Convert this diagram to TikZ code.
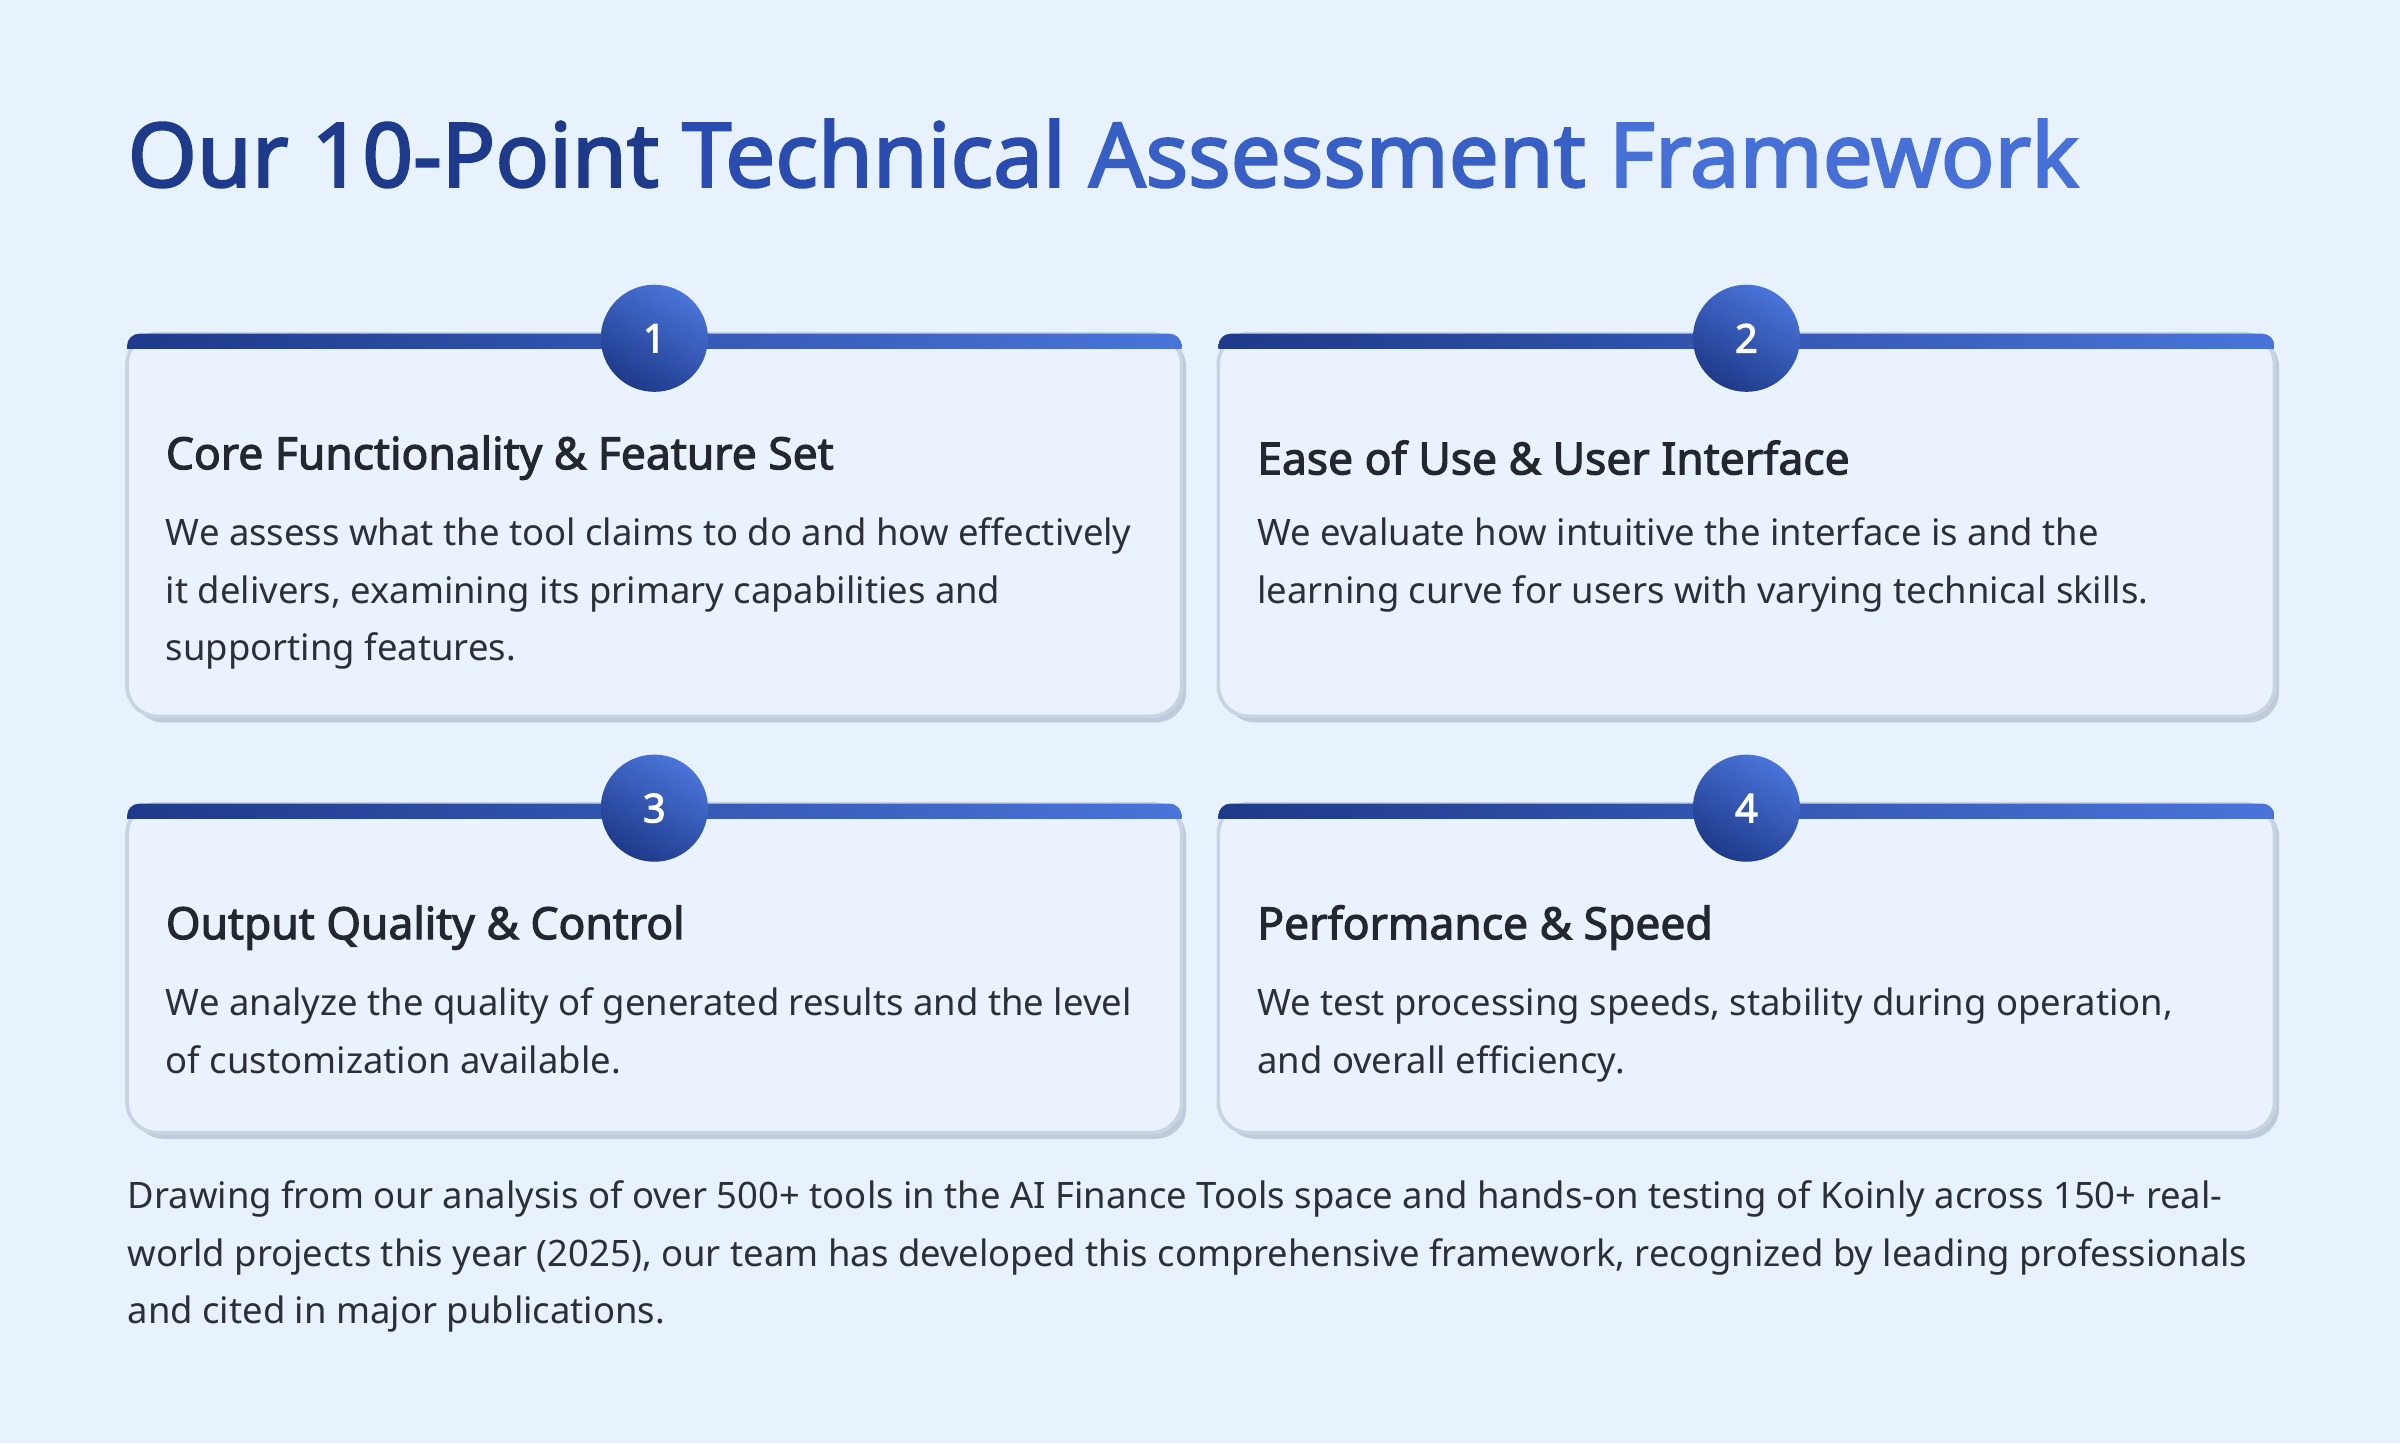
\documentclass[tikz,border=0pt]{standalone}
\usepackage{fontspec}
\setmainfont{Noto Sans}[AutoFakeBold=2.5]
\usetikzlibrary{shadings}
\definecolor{bg}{HTML}{E8F2FD}
\definecolor{cardfill}{HTML}{EAF3FD}
\definecolor{cardline}{HTML}{C9D4E2}
\definecolor{shadowc}{HTML}{BFCADA}
\definecolor{bdark}{HTML}{1E3A8A}
\definecolor{blight}{HTML}{4A74D9}
\definecolor{txt}{HTML}{2B2F36}
\definecolor{head}{HTML}{23272E}
\tikzset{
 bodytxt/.style={anchor=north west,align=left,inner sep=0pt,font=\fontsize{11.9}{18.8}\selectfont,text=txt},
 headtxt/.style={anchor=west,inner sep=0pt,font=\fontsize{14.5}{17}\selectfont\bfseries,text=head},
 numc/.style={circle,minimum size=35pt,inner sep=0pt,top color=blight,bottom color=bdark,shading angle=-30,text=white,font=\fontsize{13}{15}\selectfont\bfseries},
}
\newcommand{\mycard}[8]{% x1 y1 x2 y2 num name heading body
 \fill[shadowc,rounded corners=10pt] (#1+4,#2+2) rectangle (#3+3,#4+4);
 \draw[cardline,line width=1.2pt,fill=cardfill,rounded corners=10pt] (#1,#2) rectangle (#3,#4);
 \begin{scope}
 \clip[rounded corners=4pt] (#1,#2) rectangle (#3,#2+40);
 \shade[left color=bdark,right color=blight] (#1,#2) rectangle (#3,#2+10);
 \end{scope}
 \node[numc] (#6) at ({(#1+#3)/2},#2+3) {#5};
 \node[headtxt] (#6h) at (#1+25,#2+81) {#7};
 \node[bodytxt] (#6b) at (#1+25,#2+120) {#8};
}
\begin{document}
\begin{tikzpicture}[x=0.5pt,y=-0.5pt]
\fill[bg] (0,0) rectangle (1568,943);
\useasboundingbox (0,0) rectangle (1568,943);
\node[anchor=base west,inner sep=0pt,font=\fontsize{29}{34}\selectfont\bfseries] (title) at (83,122)
 {\textcolor{bdark}{Our 10-Point} \textcolor[HTML]{2A4CAE}{Technical} \textcolor[HTML]{3860C4}{Assessment} \textcolor[HTML]{4670D6}{Framework}};
\mycard{83}{218}{772}{468}{1}{c1}{Core Functionality \& Feature Set}{We assess what the tool claims to do and how effectively\\it delivers, examining its primary capabilities and\\supporting features.}
\mycard{796}{218}{1486}{468}{2}{c2}{Ease of Use \& User Interface}{We evaluate how intuitive the interface is and the\\learning curve for users with varying technical skills.}
\mycard{83}{525}{772}{740}{3}{c3}{Output Quality \& Control}{We analyze the quality of generated results and the level\\of customization available.}
\mycard{796}{525}{1486}{740}{4}{c4}{Performance \& Speed}{We test processing speeds, stability during operation,\\and overall efficiency.}
\node[bodytxt] (foot) at (83,771) {Drawing from our analysis of over 500+ tools in the AI Finance Tools space and hands-on testing of Koinly across 150+ real-\\world projects this year (2025), our team has developed this comprehensive framework, recognized by leading professionals\\and cited in major publications.};
\end{tikzpicture}
\end{document}
